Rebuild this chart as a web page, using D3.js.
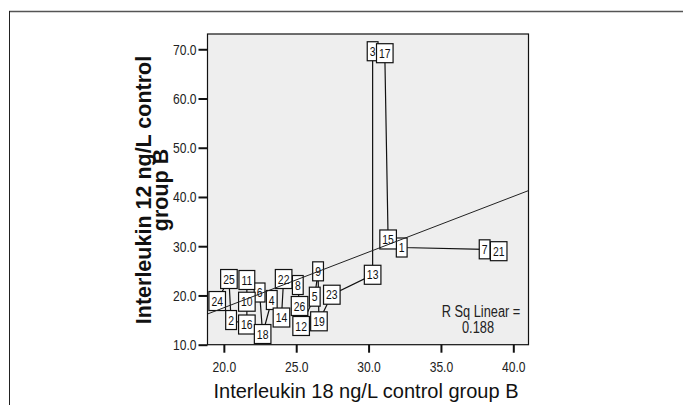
<!DOCTYPE html>
<html>
<head>
<meta charset="utf-8">
<script src="https://cdn.jsdelivr.net/npm/d3@7"></script>
<style>
  body { margin: 0; background: #fff; }
  svg { display: block; }
  text { font-family: "Liberation Sans", Arial, sans-serif; }
</style>
</head>
<body>
<svg id="chart" width="683" height="405"></svg>
<script>
// case numbers and their values
const caseIds = [1, 2, 3, 4, 5, 6, 7, 8, 9, 10, 11, 12, 13, 14, 15, 16, 17, 18, 19, 21, 22, 23, 24, 25, 26]
const il18 = [32.29, 20.50, 30.28, 23.31, 26.28, 22.47, 38.02, 25.11, 26.51, 21.59, 21.59, 25.34, 30.28, 23.98, 31.35, 21.59, 31.12, 22.68, 26.57, 38.99, 24.13, 27.46, 19.54, 20.35, 25.23]
const il12 = [29.74, 15.01, 69.6, 19.08, 19.75, 20.6, 29.37, 22.12, 24.9, 18.73, 23.14, 13.8, 24.2, 15.52, 31.37, 14.1, 69.2, 12.17, 14.75, 28.99, 23.34, 20.15, 18.87, 23.34, 17.86]

const xTicks = [20, 25, 30, 35, 40]
const yTicks = [10, 20, 30, 40, 50, 60, 70]

// linear fit shown in the picture
const fitIntercept = -5.09
const fitSlope = 1.130
const rSq = 0.188

const plot = ({left: 207.5, right: 528.5, top: 34, bottom: 344.7})
const narrowK = 0.8

// squeeze text like a narrow face (no narrow font installed)
function squeeze(sel, k) {
    sel.each(function () {
        const len = this.getComputedTextLength()
        d3.select(this)
            .attr("textLength", len * k)
            .attr("lengthAdjust", "spacingAndGlyphs")
    })
}

const x = d3.scaleLinear()
    .domain([18.87, 41.05])
    .range([plot.left, plot.right])

const y = d3.scaleLinear()
    .domain([10, 73.1])
    .range([plot.bottom, plot.top])

const svg = d3.select("#chart")

// outer frame
svg.append("line")
    .attr("x1", 9).attr("x2", 683).attr("y1", 11.5).attr("y2", 11.5)
    .attr("stroke", "#555").attr("stroke-width", 1.5)
svg.append("line")
    .attr("x1", 9.5).attr("x2", 9.5).attr("y1", 11).attr("y2", 405)
    .attr("stroke", "#222").attr("stroke-width", 1)

// plot background
svg.append("rect")
    .attr("x", plot.left)
    .attr("y", plot.top)
    .attr("width", plot.right - plot.left)
    .attr("height", plot.bottom - plot.top)
    .attr("fill", "#eeeeee")

const points = caseIds.map((id, i) => ({id: id, x: il18[i], y: il12[i]}))

// interpolation line, points taken in order of x
const ordered = points.slice().sort((a, b) => a.x - b.x || a.y - b.y)
const line = d3.line()
    .x(d => x(d.x))
    .y(d => y(d.y))

svg.append("path")
    .datum(ordered)
    .attr("d", line)
    .attr("fill", "none")
    .attr("stroke", "#111")
    .attr("stroke-width", 1.2)

// case labels
const labels = svg.append("g")
    .selectAll("g")
    .data(points)
    .join("g")
        .attr("transform", d => `translate(${x(d.x)}, ${y(d.y)})`)

labels.append("rect")
    .attr("fill", "#fff")
    .attr("stroke", "#111")
    .attr("stroke-width", 1.2)

labels.append("text")
    .text(d => d.id)
    .attr("text-anchor", "middle")
    .attr("dy", "0.36em")
    .attr("font-size", 13)
    .attr("fill", "#111")
    .call(squeeze, narrowK)

labels.each(function () {
    const g = d3.select(this)
    const w = +g.select("text").attr("textLength") + 5
    g.select("rect")
        .attr("x", -w / 2)
        .attr("y", -9.5)
        .attr("width", w)
        .attr("height", 19)
})

// fit line, over the labels
svg.append("line")
    .attr("x1", x(18.87))
    .attr("y1", y(fitIntercept + fitSlope * 18.87))
    .attr("x2", x(41.05))
    .attr("y2", y(fitIntercept + fitSlope * 41.05))
    .attr("stroke", "#222")
    .attr("stroke-width", 1)

// plot border
svg.append("rect")
    .attr("x", plot.left)
    .attr("y", plot.top)
    .attr("width", plot.right - plot.left)
    .attr("height", plot.bottom - plot.top)
    .attr("fill", "none")
    .attr("stroke", "#111")
    .attr("stroke-width", 1.2)

// R squared note
svg.append("text")
    .text("R Sq Linear =")
    .attr("x", 481).attr("y", 317)
    .attr("text-anchor", "middle")
    .attr("font-size", 16)
    .attr("fill", "#222")
    .call(squeeze, narrowK)
svg.append("text")
    .text(d3.format(".3f")(rSq))
    .attr("x", 478).attr("y", 333)
    .attr("text-anchor", "middle")
    .attr("font-size", 16)
    .attr("fill", "#222")
    .call(squeeze, narrowK)

// axes
const xAxis = svg.append("g")
    .attr("transform", `translate(0, ${plot.bottom})`)
    .call(d3.axisBottom(x).tickValues(xTicks).tickFormat(d3.format(".1f")).tickSize(8).tickPadding(8))
const yAxis = svg.append("g")
    .attr("transform", `translate(${plot.left}, 0)`)
    .call(d3.axisLeft(y).tickValues(yTicks).tickFormat(d3.format(".1f")).tickSize(9).tickPadding(2))

for (const ax of [xAxis, yAxis]) {
    ax.attr("font-family", null)
    ax.select(".domain").remove()
    ax.selectAll(".tick line").attr("stroke", "#111").attr("stroke-width", 2)
    ax.selectAll(".tick text")
        .attr("font-size", 15.5)
        .attr("fill", "#222")
        .call(squeeze, 0.78)
}

// axis titles
svg.append("text")
    .text("Interleukin 18 ng/L control group B")
    .attr("x", (plot.left + plot.right) / 2 - 2)
    .attr("y", 398)
    .attr("text-anchor", "middle")
    .attr("font-size", 20)
    .attr("fill", "#111")

const yTitle = svg.append("g")
    .attr("transform", "translate(151, 190) rotate(-90)")
    .attr("text-anchor", "middle")
    .attr("font-weight", "bold")
    .attr("font-size", 21.5)
    .attr("fill", "#111")
yTitle.append("text").attr("x", 0).attr("y", 0).text("Interleukin 12 ng/L control")
yTitle.append("text").attr("x", 0).attr("y", 17).text("group B")
</script>
</body>
</html>
